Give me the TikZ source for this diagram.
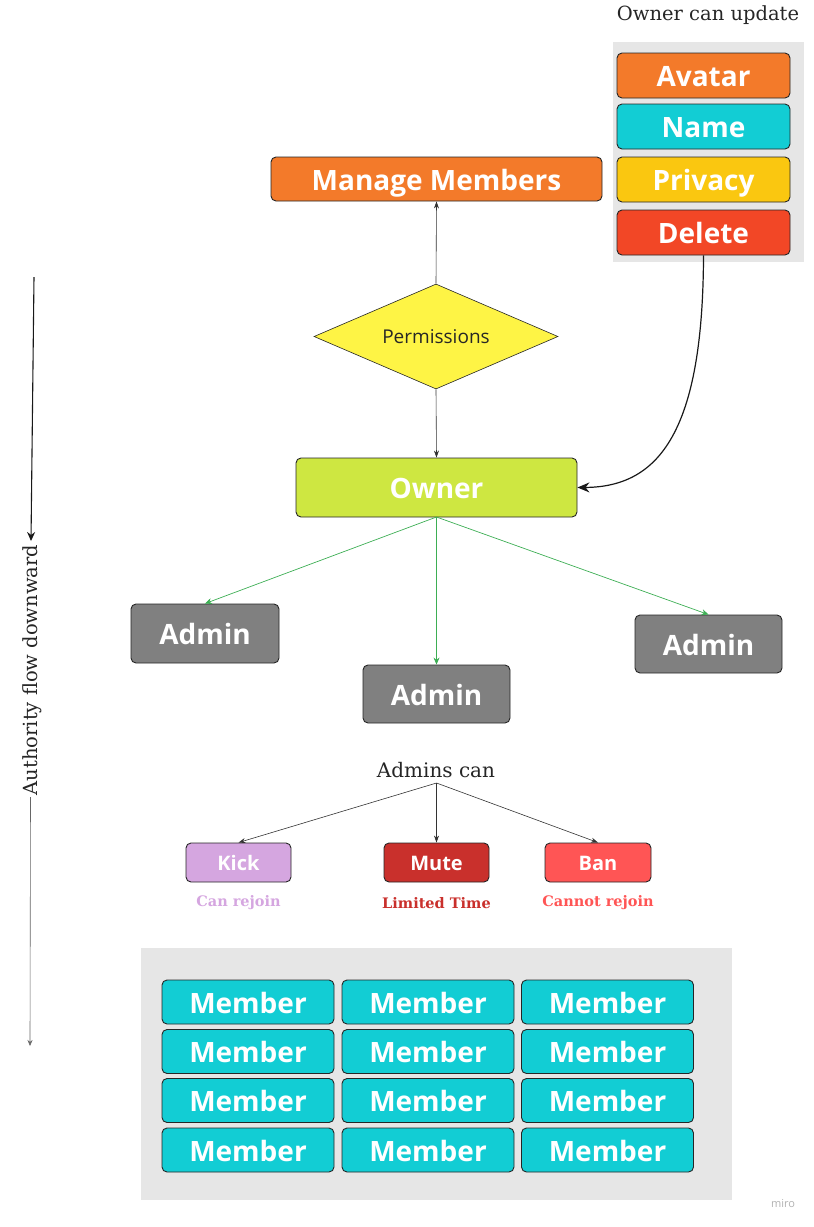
\documentclass[tikz,border=0pt]{standalone}
\usepackage{fontspec}
\setmainfont{DejaVu Serif}
\newfontfamily\osans{Open Sans}
\usetikzlibrary{shapes.geometric,arrows.meta}
\definecolor{morange}{HTML}{F37A2A}
\definecolor{mcyan}{HTML}{12CDD4}
\definecolor{myellow}{HTML}{FAC710}
\definecolor{mred}{HTML}{F24726}
\definecolor{mlime}{HTML}{CEE741}
\definecolor{mgray}{HTML}{808080}
\definecolor{mpanel}{HTML}{E6E6E6}
\definecolor{mdiam}{HTML}{FEF445}
\definecolor{mkick}{HTML}{D5A6E0}
\definecolor{mmute}{HTML}{C9302C}
\definecolor{mban}{HTML}{FF5555}
\definecolor{mgreen}{HTML}{3DAE54}
\definecolor{mline}{HTML}{333333}
\begin{document}
\begin{tikzpicture}[x=1pt,y=-1pt,
  box/.style={draw=black!85, rounded corners=5pt, line width=0.9pt, text=white,
    font=\osans\bfseries\fontsize{28}{30}\selectfont, inner sep=0pt,
    text height=22pt, text depth=0pt},
  smallbox/.style={box, font=\osans\bfseries\fontsize{20}{24}\selectfont,
    text height=16pt, text depth=0pt},
  panel/.style={fill=mpanel, draw=none, inner sep=0pt},
  thinarrow/.style={draw=mline, line width=0.6pt, -{Stealth[length=7pt,width=5pt]}},
  greenarrow/.style={draw=mgreen, line width=0.7pt, -{Stealth[length=7pt,width=6pt]}},
  serif/.style={font=\fontsize{19.5}{22}\selectfont, text=black!85, inner sep=0pt},
  note/.style={font=\bfseries\fontsize{14.5}{17}\selectfont, inner sep=0pt}]
\useasboundingbox (0,0) rectangle (814,1227);

% owner can update panel
\node[serif] (ocu) at (708,15) {Owner can update};
\node[panel, minimum width=191pt, minimum height=220pt] (upanel) at (708.5,152) {};
\node[box, fill=morange, minimum width=173pt, minimum height=45pt] (avatar) at (703.5,75.5) {Avatar};
\node[box, fill=mcyan, minimum width=173pt, minimum height=45pt] (name) at (703.5,126.5) {Name};
\node[box, fill=myellow, minimum width=173pt, minimum height=45pt] (privacy) at (703.5,179.5) {Privacy};
\node[box, fill=mred, minimum width=173pt, minimum height=45pt] (delete) at (703.5,232.5) {Delete};

% manage members
\node[box, fill=morange, minimum width=331pt, minimum height=44pt] (manage) at (436.5,179) {Manage Members};

% permissions diamond
\node[diamond, aspect=2.32, draw=black!85, fill=mdiam, line width=0.6pt, minimum width=244pt, minimum height=105pt, inner sep=0pt,
  font=\osans\fontsize{19}{22}\selectfont, text=black!85] (perm) at (436,336.5) {Permissions};

% owner
\node[box, fill=mlime, minimum width=281pt, minimum height=59pt] (owner) at (436.5,487.5) {Owner};

% admins
\node[box, fill=mgray, minimum width=148pt, minimum height=59pt] (adminL) at (205,633.5) {Admin};
\node[box, fill=mgray, minimum width=147pt, minimum height=58pt] (adminC) at (436.5,694) {Admin};
\node[box, fill=mgray, minimum width=147pt, minimum height=58pt] (adminR) at (708.5,644) {Admin};

\draw[thinarrow] (perm.north) -- (manage.south);
\draw[thinarrow] (perm.south) -- (owner.north);
\draw[line width=1.2pt, black!90, -{Stealth[length=12pt,width=10pt]}] (delete.south) .. controls (703,430) and (660,487) .. (owner.east);

\coordinate (ob) at (436.5,517);
\draw[greenarrow] (ob) -- (adminL.north);
\draw[greenarrow] (ob) -- (adminC.north);
\draw[greenarrow] (ob) -- (adminR.north);

% admins can
\node[serif, font=\fontsize{20}{23}\selectfont] (acan) at (436,770) {Admins can};
\coordinate (acb) at (436.5,783);
\node[smallbox, fill=mkick, minimum width=105pt, minimum height=39pt] (kick) at (238.5,862.5) {Kick};
\node[smallbox, fill=mmute, minimum width=105pt, minimum height=39pt] (mute) at (436.5,862.5) {Mute};
\node[smallbox, fill=mban, minimum width=106pt, minimum height=39pt] (ban) at (598,862.5) {Ban};
\draw[thinarrow] (acb) -- (kick.north);
\draw[thinarrow] (acb) -- (mute.north);
\draw[thinarrow] (acb) -- (ban.north);
\node[note, text=mkick] (nkick) at (238.5,903) {Can rejoin};
\node[note, text=mmute] (nmute) at (436.5,903) {Limited Time};
\node[note, text=mban] (nban) at (598,903) {Cannot rejoin};

% members panel
\node[panel, minimum width=591pt, minimum height=252pt] (mpanel) at (436.5,1074) {};
\foreach \r/\y in {1/1002,2/1051.5,3/1100.5,4/1150}{
  \foreach \c/\x in {1/248,2/428,3/607.5}{
    \node[box, fill=mcyan, minimum width=172pt, minimum height=44pt] (m\r\c) at (\x,\y) {Member};
  }
}

% authority flow
\coordinate (af1) at (34,277);
\coordinate (af2) at (31,541);
\coordinate (af3) at (30.5,797);
\coordinate (af4) at (30,1046);
\draw[line width=1.1pt, black!90, -{Stealth[length=9pt,width=8pt]}] (af1) -- (af2);
\node[serif, rotate=90, font=\fontsize{19.5}{22}\selectfont] (aflow) at (32,670) {Authority flow downward};
\draw[line width=0.6pt, black!60, -{Stealth[length=6pt,width=5pt]}] (af3) -- (af4);

% watermark
\node[font=\osans\fontsize{11}{13}\selectfont, text=black!30, inner sep=0pt] (miro) at (783,1204) {miro};
\end{tikzpicture}
\end{document}
